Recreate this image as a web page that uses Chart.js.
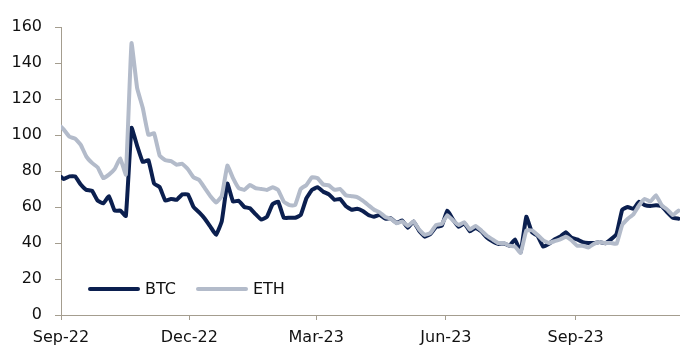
<!DOCTYPE html>
<html lang="en">
<head>
<meta charset="UTF-8">
<title>BTC vs ETH</title>
<script src="https://cdn.jsdelivr.net/npm/chart.js"></script>
<style>
  * { box-sizing: border-box; margin: 0; padding: 0; }
  body { background: #fff; }
  .wrap { position: relative; width: 680px; height: 350px; }
  .legend { position: absolute; left: 88px; top: 279px; display: flex; align-items: center;
            font-family: "DejaVu Sans", sans-serif; font-size: 16px; color: #111; }
  .legend .item { display: flex; align-items: center; margin-right: 20px; }
  .legend .swatch { width: 52px; height: 4px; border-radius: 2px; margin-right: 5px; }
</style>
</head>
<body>
<div class="wrap">
  <canvas id="grafica" width="680" height="350"></canvas>
  <div class="legend">
    <div class="item"><span class="swatch" style="background:#0b1f4f"></span>BTC</div>
    <div class="item"><span class="swatch" style="background:#b3bbca"></span>ETH</div>
  </div>
</div>

<script>
// days since 1 Sep 2022
const days = [0, 2, 6, 10, 14, 18, 22, 26, 30, 34, 38, 42, 46, 50, 54, 58, 62, 66, 70, 74,
  78, 82, 86, 90, 94, 98, 102, 106, 110, 114, 118, 122, 126, 130, 134, 138, 142, 146, 150, 154,
  158, 162, 166, 170, 174, 178, 182, 186, 190, 194, 198, 202, 206, 210, 214, 218, 222, 226, 230, 234,
  238, 242, 246, 250, 254, 258, 262, 266, 270, 274, 278, 282, 286, 290, 294, 298, 302, 306, 310, 314,
  318, 322, 326, 330, 334, 338, 342, 346, 350, 354, 358, 362, 366, 370, 374, 378, 382, 386, 390, 394,
  398, 402, 406, 410, 414, 418, 422, 426, 430, 434, 438];

const btc = [76.8, 75.5, 77, 77, 72.5, 69.5, 69, 63.5, 62, 66, 58, 58, 55, 104, 94, 85, 86, 73, 71, 63.5,
  64.5, 64, 67, 67, 60, 57, 53.5, 49, 44.5, 52, 73, 63, 63.5, 60, 59.3, 56, 53, 54.5, 61.5, 63,
  54, 54, 54, 55.5, 64.8, 69.5, 71, 68.5, 67, 64, 64.5, 60.5, 58.5, 59, 57.8, 55.6, 54.6, 55.6, 53.5, 53.7,
  51.2, 52.5, 48.5, 52, 46.8, 43.5, 45, 49, 49.5, 58, 53, 49, 51, 46.5, 48.5, 46.5, 43, 41, 39.5, 39.8,
  38.5, 42, 35, 54.6, 46, 44, 38, 39.5, 42, 43.5, 46, 43, 42, 40.5, 40, 40, 40.5, 39.8, 42, 45,
  58.5, 60, 59, 63, 61, 60.5, 61, 60.5, 57, 54, 53.5];

const eth = [104.6, 103, 99, 98, 94.5, 88, 84.5, 82, 76, 78, 81, 87, 78, 151, 126, 115, 100, 101, 88.5, 86,
  85.5, 83.5, 84, 81, 76.5, 75, 70.5, 66, 62.5, 66, 83, 76, 70.5, 69.5, 72.2, 70.5, 70, 69.5, 71, 69.5,
  63, 61, 61, 70, 72.2, 76.5, 76, 72.5, 72, 69.5, 70, 66.5, 66, 65.5, 63.5, 61, 58.5, 57, 54.5, 53.5,
  51, 52, 49.5, 52, 47.5, 44.5, 45.5, 50, 50.5, 55.5, 52.5, 50, 51.5, 47.5, 49.5, 47, 44, 42, 40, 40,
  38.5, 38, 34.5, 47, 47, 44.5, 41.5, 40, 41, 42, 43.5, 41.5, 38.5, 38.5, 37.5, 39.5, 40.5, 40, 40, 39.5,
  50, 53.5, 56, 61, 64.5, 63, 66.5, 61, 58.5, 55.5, 58];

const tickDays = [0, 91, 181, 273, 365];
const tickLabels = ['Sep-22', 'Dec-22', 'Mar-23', 'Jun-23', 'Sep-23'];

const axisColor = '#a49d8f';
const fuente = { family: 'DejaVu Sans', size: 16 };

const ctx = document.getElementById('grafica').getContext('2d');
const grafica = new Chart(ctx, {
  type: 'line',
  data: {
    datasets: [
      {
        label: 'BTC',
        data: days.map((d, i) => ({ x: d, y: btc[i] })),
        borderColor: '#0b1f4f',
        borderWidth: 4,
        order: 1
      },
      {
        label: 'ETH',
        data: days.map((d, i) => ({ x: d, y: eth[i] })),
        borderColor: '#b3bbca',
        borderWidth: 4,
        order: 0
      }
    ]
  },
  options: {
    responsive: false,
    animation: false,
    elements: {
      point: { radius: 0 },
      line: { tension: 0.1, borderJoinStyle: 'round', borderCapStyle: 'round' }
    },
    layout: { padding: { top: 27, right: 0, left: 0, bottom: 0 } },
    scales: {
      x: {
        type: 'linear',
        min: 0, max: 439,
        afterBuildTicks: s => { s.ticks = tickDays.map(v => ({ value: v })); },
        afterFit: s => { s.height = 35; },
        ticks: {
          autoSkip: false, maxRotation: 0, padding: 8,
          color: '#111', font: fuente,
          callback: (v) => tickLabels[tickDays.indexOf(v)]
        },
        grid: { drawOnChartArea: false, drawTicks: true, tickLength: 5, color: axisColor },
        border: { color: axisColor, width: 1 }
      },
      y: {
        min: 0, max: 160,
        afterFit: s => { s.width = 61; },
        ticks: { stepSize: 20, padding: 13, color: '#111', font: fuente },
        grid: { drawOnChartArea: false, drawTicks: true, tickLength: 6, color: axisColor },
        border: { color: axisColor, width: 1 }
      }
    },
    plugins: {
      legend: { display: false },
      tooltip: { enabled: false }
    }
  }
});
</script>
</body>
</html>
